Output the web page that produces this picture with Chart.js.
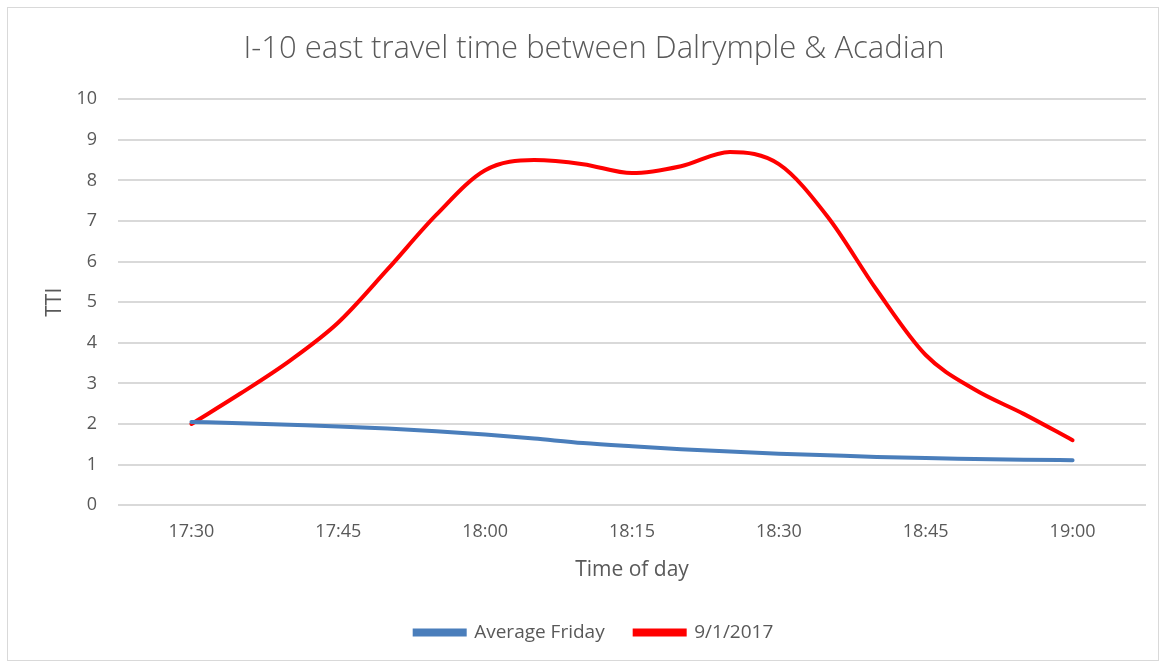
<!DOCTYPE html>
<html lang="en">
<head>
  <meta charset="UTF-8">
  <script src="https://cdn.jsdelivr.net/npm/chart.js"></script>
  <style>
    body { margin: 0; background: #fff; }
    .chart-box {
      position: absolute; left: 7px; top: 7px;
      width: 1150px; height: 652px;
      border: 1px solid #d9d9d9;
    }
  </style>
</head>
<body>
  <div class="chart-box"><canvas id="ttiChart"></canvas></div>

  <script>
    // 5-minute slots; first and last are empty padding slots like the original axis
    const timeLabels = ['17:25', '17:30', '17:35', '17:40', '17:45', '17:50', '17:55', '18:00', '18:05', '18:10',
      '18:15', '18:20', '18:25', '18:30', '18:35', '18:40', '18:45', '18:50', '18:55', '19:00', '19:05'];
    const averageFriday = [null, 2.05, 2.02, 1.98, 1.94, 1.89, 1.82, 1.74, 1.64, 1.53, 1.45,
      1.38, 1.32, 1.27, 1.23, 1.19, 1.16, 1.14, 1.12, 1.11, null];
    const sept1 = [null, 2.0, 2.75, 3.55, 4.5, 5.8, 7.15, 8.25, 8.5, 8.4, 8.18,
      8.35, 8.7, 8.4, 7.1, 5.3, 3.7, 2.85, 2.25, 1.6, null];
    const yTicks = [0, 1, 2, 3, 4, 5, 6, 7, 8, 9, 10];

    const grey = '#595959';
    const fontFam = "'Open Sans', 'Noto Sans', sans-serif";

    new Chart(document.getElementById('ttiChart'), {
      type: 'line',
      data: {
        labels: timeLabels,
        datasets: [{
          label: 'Average Friday',
          data: averageFriday,
          borderColor: '#4a7ebb',
          backgroundColor: '#4a7ebb',
          borderWidth: 4,
          pointRadius: 0,
          cubicInterpolationMode: 'monotone',
          borderCapStyle: 'round',
          fill: false,
        }, {
          label: '9/1/2017',
          data: sept1,
          borderColor: '#ff0000',
          backgroundColor: '#ff0000',
          borderWidth: 4,
          pointRadius: 0,
          cubicInterpolationMode: 'monotone',
          borderCapStyle: 'round',
          fill: false,
        }]
      },
      options: {
        responsive: true,
        maintainAspectRatio: false,
        animation: false,
        layout: { padding: { left: 34, right: 12, top: 14, bottom: 8 } },
        plugins: {
          title: {
            display: true,
            text: 'I-10 east travel time between Dalrymple & Acadian',
            color: grey,
            font: { family: fontFam, size: 31, weight: '300' },
            padding: { top: 9, bottom: 31 }
          },
          legend: {
            position: 'bottom',
            labels: {
              color: grey,
              font: { family: fontFam, size: 19 },
              boxWidth: 50,
              boxHeight: 4,
              padding: 30
            }
          },
          tooltip: { enabled: false }
        },
        scales: {
          x: {
            offset: true,
            grid: { display: false },
            border: { display: false },
            ticks: {
              color: grey,
              font: { family: fontFam, size: 18 },
              autoSkip: false,
              maxRotation: 0,
              padding: 8,
              callback: (val, idx) => ((idx - 1) % 3 === 0 ? timeLabels[idx] : '')
            },
            title: {
              display: true,
              text: 'Time of day',
              color: grey,
              font: { family: fontFam, size: 21 },
              padding: { top: 7, bottom: 10 }
            }
          },
          y: {
            min: 0,
            max: 10,
            afterBuildTicks: (axis) => { axis.ticks = yTicks.map(v => ({ value: v })); },
            afterFit: (axis) => { axis.width = 76; },
            grid: { color: '#d9d9d9', lineWidth: 2, drawTicks: false },
            border: { display: false },
            ticks: {
              color: grey,
              font: { family: fontFam, size: 18 },
              padding: 21
            },
            title: {
              display: true,
              text: 'TTI',
              color: grey,
              font: { family: fontFam, size: 21 },
              padding: { top: 0, bottom: 0 }
            }
          }
        }
      }
    });
  </script>
</body>
</html>
